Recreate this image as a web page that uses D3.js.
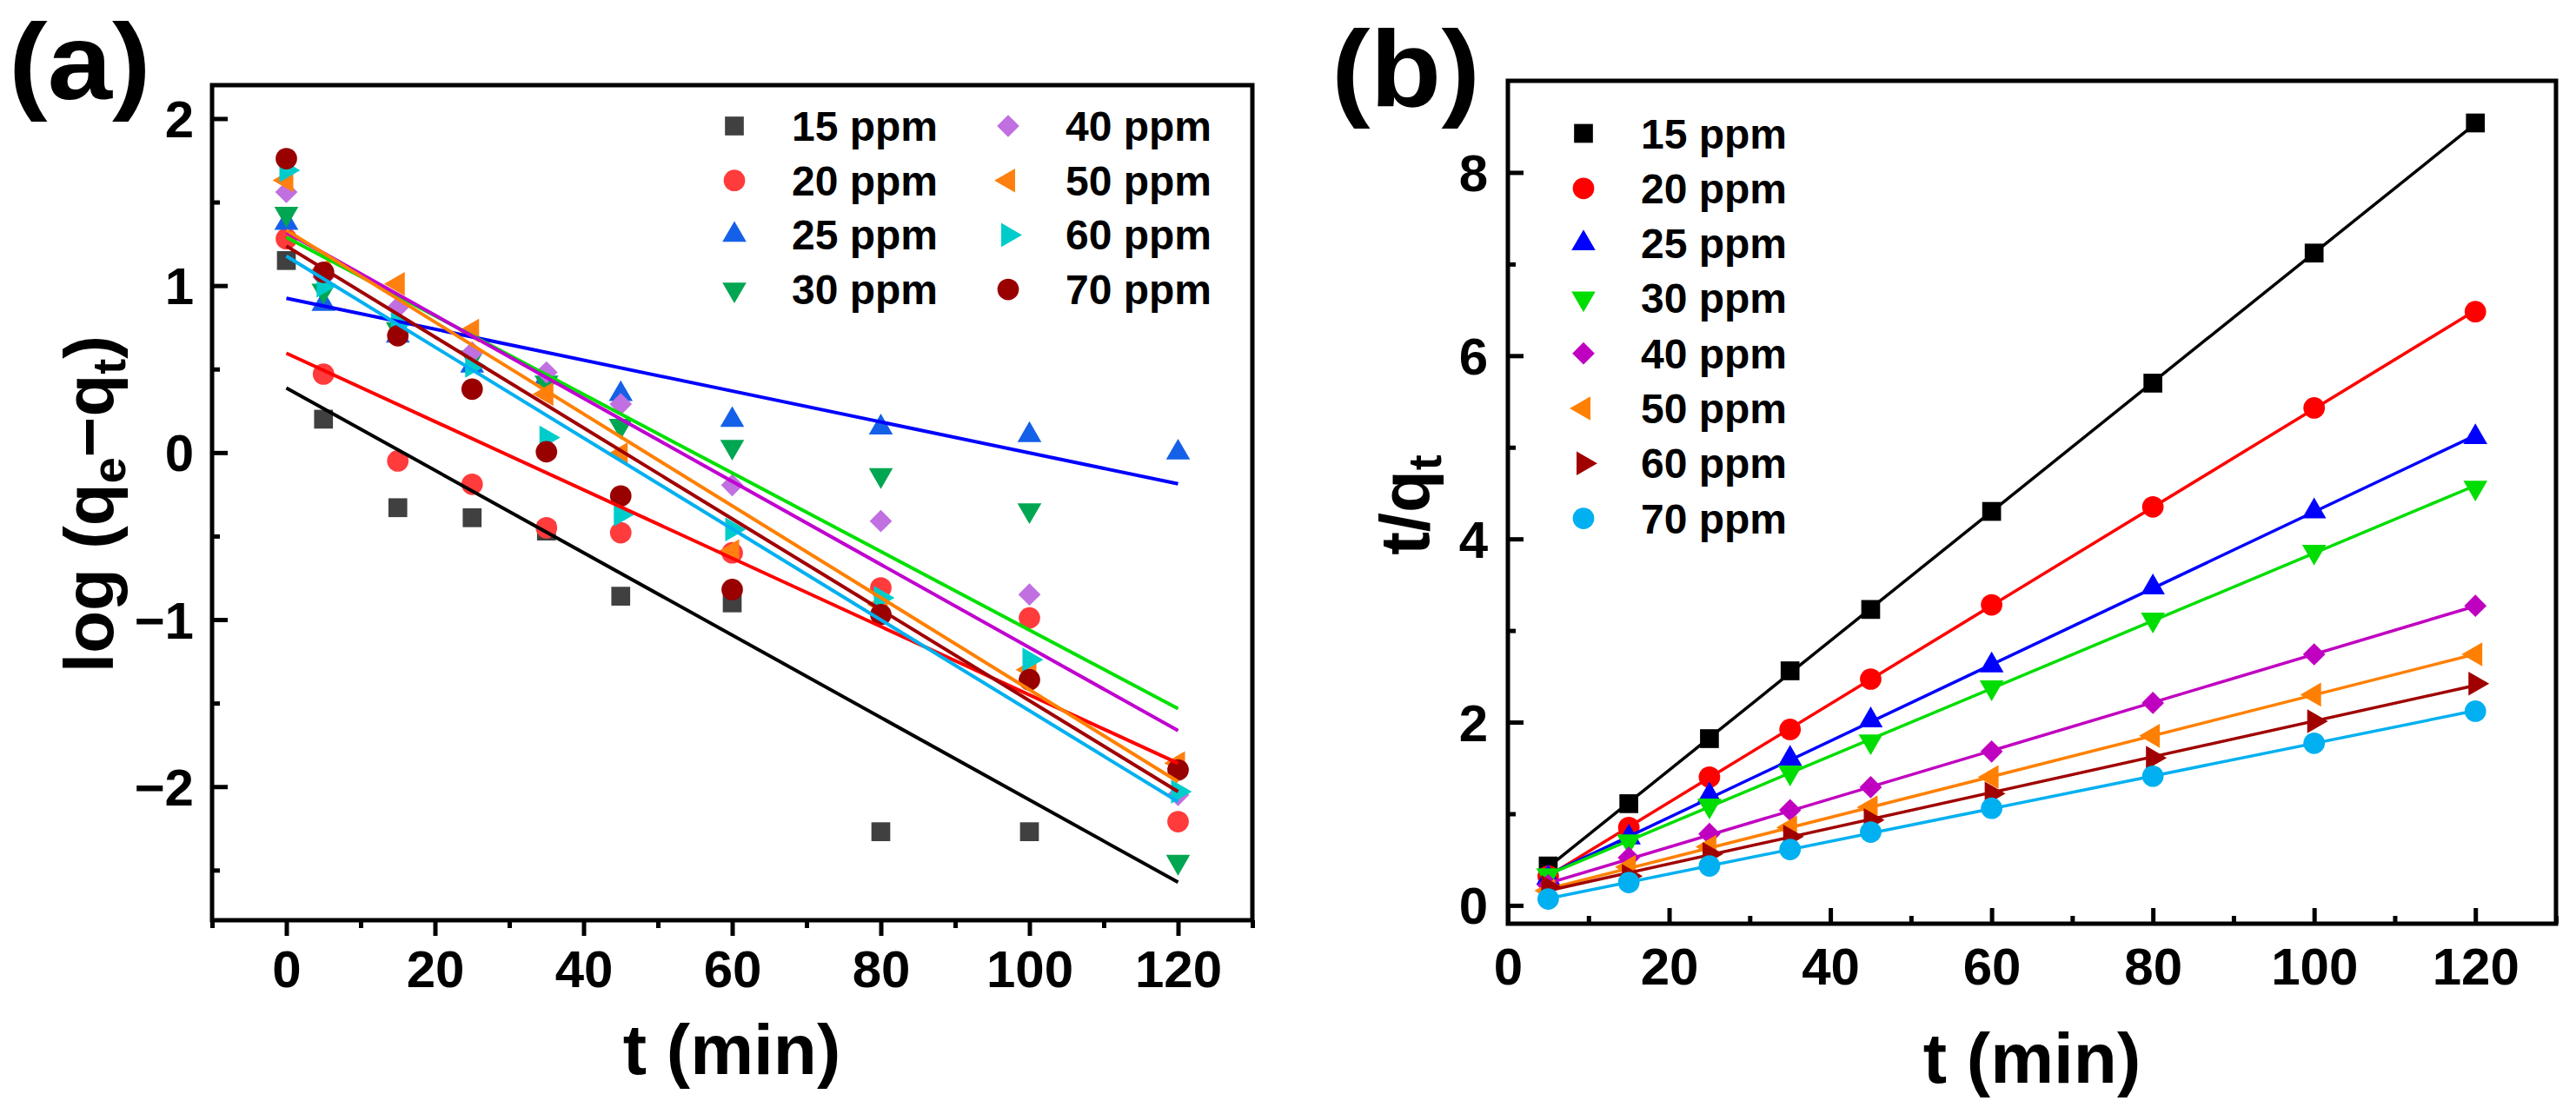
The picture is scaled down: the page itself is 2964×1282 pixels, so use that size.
<!DOCTYPE html>
<html><head><meta charset="utf-8">
<script src="https://cdn.jsdelivr.net/npm/d3@7"></script>
<style>
html,body{margin:0;padding:0;background:#fff;}
svg{display:block;}
text{font-family:"Liberation Sans",Arial,Helvetica,sans-serif;font-weight:bold;fill:#000;}
</style></head>
<body>
<svg id="chart" width="2964" height="1282"></svg>
<script>
// ---------- DATA ----------
const concLabels = ["15 ppm","20 ppm","25 ppm","30 ppm","40 ppm","50 ppm","60 ppm","70 ppm"];

// Panel (a): pseudo-first-order, log(qe - qt) vs t
const timesA = [0,5,15,25,35,45,60,80,100,120];
const logA15 = [1.15, 0.20, -0.33, -0.39, -0.47, -0.86, -0.90, -2.27, -2.27, null];
const logA20 = [1.28, 0.47, -0.05, -0.19, -0.45, -0.48, -0.60, -0.81, -0.99, -2.21];
const logA25 = [1.375, 0.89, 0.70, 0.52, 0.45, 0.35, 0.195, 0.15, 0.105, 0.0];
const logA30 = [1.43, 0.97, 0.74, 0.57, 0.42, 0.16, 0.035, -0.135, -0.345, -2.45];
const logA40 = [1.56, 1.05, 0.87, 0.60, 0.48, 0.29, -0.195, -0.41, -0.85, -2.05];
const logA50 = [1.63, 1.09, 1.01, 0.73, 0.35, -0.01, -0.59, -0.91, -1.30, -1.86];
const logA60 = [1.69, 1.00, 0.77, 0.52, 0.09, -0.37, -0.46, -0.87, -1.24, -2.03];
const logA70 = [1.76, 1.08, 0.70, 0.38, 0.005, -0.26, -0.82, -0.97, -1.36, -1.90];
// fitted lines: value at t = 0 and at t = 120
const fitStartA = [0.387, 0.595, 0.924, 1.289, 1.32, 1.332, 1.176, 1.237];
const fitEndA   = [-2.573, -1.86, -0.187, -1.533, -1.665, -1.97, -2.09, -2.03];
const fitRangeA = [0, 120];

// Panel (b): pseudo-second-order, t/qt vs t
const timesB = [5,15,25,35,45,60,80,100,120];
const tqB15 = [0.43, 1.11, 1.82, 2.56, 3.23, 4.30, 5.70, 7.12, 8.54];
const tqB20 = [0.32, 0.85, 1.40, 1.92, 2.47, 3.28, 4.35, 5.43, 6.48];
const tqB25 = [0.30, 0.74, 1.20, 1.60, 2.02, 2.62, 3.47, 4.30, 5.11];
const tqB30 = [0.33, 0.70, 1.09, 1.45, 1.79, 2.38, 3.12, 3.86, 4.56];
const tqB40 = [0.22, 0.52, 0.78, 1.04, 1.29, 1.68, 2.21, 2.74, 3.27];
const tqB50 = [0.16, 0.42, 0.64, 0.85, 1.07, 1.40, 1.85, 2.30, 2.74];
const tqB60 = [0.20, 0.32, 0.56, 0.75, 0.93, 1.22, 1.61, 2.01, 2.42];
const tqB70 = [0.07, 0.25, 0.43, 0.61, 0.80, 1.06, 1.41, 1.77, 2.12];

// Axis ticks
const xMajorA = [0,20,40,60,80,100,120];
const xMinorA = [-10,10,30,50,70,90,110,130];
const yMajorA = [-2,-1,0,1,2];
const yMinorA = [-2.5,-1.5,-0.5,0.5,1.5];
const xMajorB = [0,20,40,60,80,100,120];
const xMinorB = [10,30,50,70,90,110,130];
const yMajorB = [0,2,4,6,8];
const yMinorB = [1,3,5,7];

// ---------- STYLE ----------
const markerColorsA = ["#404040","#ff3b3b","#1560e8","#00a651","#c070e0","#ff8010","#00cccc","#990000"];
const lineColorsA   = ["#000000","#ff0000","#0000ff","#00e000","#c000d0","#ff8000","#00b0f0","#a00000"];
const shapesA = ["square","circle","up","down","diamond","left","right","circle"];
const colorsB = ["#000000","#ff0000","#0000ff","#00dd00","#c000c0","#ff8000","#a00000","#00b0f0"];
const shapesB = ["square","circle","up","down","diamond","left","right","circle"];

const svg = d3.select("#chart");
svg.append("rect").attr("width",2964).attr("height",1282).attr("fill","#fff");

function symPath(shape){
  const s = {square:[d3.symbolSquare,470],circle:[d3.symbolCircle,480],up:[d3.symbolTriangle,330],
    down:[d3.symbolTriangle,330],left:[d3.symbolTriangle,330],right:[d3.symbolTriangle,330],diamond:[d3.symbolSquare,330]}[shape];
  return d3.symbol().type(s[0]).size(s[1])();
}
function symRot(shape){
  return {down:180,left:-90,right:90,diamond:45}[shape]||0;
}
function drawMarker(g,x,y,shape,color){
  g.append("path").attr("d",symPath(shape))
   .attr("transform",`translate(${x},${y}) rotate(${symRot(shape)})`)
   .attr("fill",color);
}

function frameAxes(g, x, y, opts){
  const [x0,x1] = x.range(), [y0,y1] = y.range();
  const xa = d3.axisBottom(x).tickValues(opts.xMajor).tickSizeOuter(0)
      .tickSizeInner(opts.xIn ? -18 : 18).tickPadding(opts.xPad).tickFormat(d3.format("d"));
  const gx = g.append("g").attr("transform",`translate(0,${y0})`).call(xa);
  const xm = d3.axisBottom(x).tickValues(opts.xMinor).tickSizeOuter(0)
      .tickSizeInner(opts.xIn ? -9 : 9).tickFormat("");
  const gxm = g.append("g").attr("transform",`translate(0,${y0})`).call(xm);
  const ya = d3.axisLeft(y).tickValues(opts.yMajor).tickSizeOuter(0)
      .tickSizeInner(-18).tickPadding(opts.yPad).tickFormat(d3.format("d"));
  const gy = g.append("g").attr("transform",`translate(${x0},0)`).call(ya);
  const ym = d3.axisLeft(y).tickValues(opts.yMinor).tickSizeOuter(0).tickSizeInner(-9).tickFormat("");
  const gym = g.append("g").attr("transform",`translate(${x0},0)`).call(ym);
  [gx,gxm,gy,gym].forEach(a=>{
    a.select(".domain").remove();
    a.selectAll(".tick line").attr("stroke","#000").attr("stroke-width",5);
    a.selectAll("text").attr("font-size",60).attr("font-family","Liberation Sans, Arial, sans-serif")
      .attr("font-weight","bold").attr("fill","#000");
  });
  gy.selectAll("text").attr("dy","0.35em");
  g.append("rect").attr("x",x0).attr("y",y1).attr("width",x1-x0).attr("height",y0-y1)
   .attr("fill","none").attr("stroke","#000").attr("stroke-width",5);
}

// ================= PANEL A =================
const xA = d3.scaleLinear().domain([-10,130]).range([244,1441]);
const yA = d3.scaleLinear().domain([-2.8,2.2]).range([1059,98]);
const gA = svg.append("g");
const seriesA = [logA15,logA20,logA25,logA30,logA40,logA50,logA60,logA70];

const clipA = svg.append("clipPath").attr("id","clipA");
clipA.append("rect").attr("x",246).attr("y",100).attr("width",1193).attr("height",957);
const plotA = gA.append("g").attr("clip-path","url(#clipA)");

seriesA.forEach((vals,i)=>{
  const pts = timesA.map((t,j)=>[t,vals[j]]).filter(p=>p[1]!==null);
  const mg = plotA.append("g");
  pts.forEach(p=>drawMarker(mg,xA(p[0]),yA(p[1]),shapesA[i],markerColorsA[i]));
});
const fitLine = d3.line().x(d=>xA(d[0])).y(d=>yA(d[1]));
seriesA.forEach((vals,i)=>{
  plotA.append("path").datum([[fitRangeA[0],fitStartA[i]],[fitRangeA[1],fitEndA[i]]])
    .attr("d",fitLine).attr("fill","none").attr("stroke",lineColorsA[i]).attr("stroke-width",4);
});
frameAxes(gA,xA,yA,{xMajor:xMajorA,xMinor:xMinorA,yMajor:yMajorA,yMinor:yMinorA,xIn:false,xPad:16,yPad:21});

// legend A
const legA = gA.append("g");
concLabels.forEach((lab,i)=>{
  const col = Math.floor(i/4), row = i%4;
  const sx = [845,1160][col], tx = [911,1226][col];
  const cy = 145 + row*62.7;
  drawMarker(legA,sx,cy,shapesA[i],markerColorsA[i]);
  legA.append("text").attr("x",tx).attr("y",cy+17).attr("font-size",48).text(lab);
});

// axis titles A
gA.append("text").attr("x",842).attr("y",1236).attr("text-anchor","middle").attr("font-size",82).text("t (min)");
const yTitA = gA.append("text").attr("transform","translate(130,580) rotate(-90)")
  .attr("text-anchor","middle").attr("font-size",80);
yTitA.append("tspan").text("log (q");
yTitA.append("tspan").attr("font-size",54).attr("dy",14).text("e");
yTitA.append("tspan").attr("dy",-14).text("\u2212q");
yTitA.append("tspan").attr("font-size",54).attr("dy",14).text("t");
yTitA.append("tspan").attr("dy",-14).text(")");
gA.append("text").attr("transform","translate(10,114) scale(1.08,1)").attr("font-size",124).text("(a)");

// ================= PANEL B =================
const xB = d3.scaleLinear().domain([0,130]).range([1735,2941]);
const yB = d3.scaleLinear().domain([-0.2,9.0]).range([1063,93]);
const gB = svg.append("g");
const seriesB = [tqB15,tqB20,tqB25,tqB30,tqB40,tqB50,tqB60,tqB70];
const lineB = d3.line().x(d=>xB(d[0])).y(d=>yB(d[1]));

seriesB.forEach((vals,i)=>{
  const pts = timesB.map((t,j)=>[t,vals[j]]);
  // least-squares straight line through the points
  const mx = d3.mean(pts,p=>p[0]), my = d3.mean(pts,p=>p[1]);
  const slope = d3.sum(pts,p=>(p[0]-mx)*(p[1]-my))/d3.sum(pts,p=>(p[0]-mx)**2);
  const icpt = my - slope*mx;
  const t0 = timesB[0], t1 = timesB[timesB.length-1];
  gB.append("path").datum([[t0,icpt+slope*t0],[t1,icpt+slope*t1]]).attr("d",lineB)
    .attr("fill","none").attr("stroke",colorsB[i]).attr("stroke-width",3.5);
  const mg = gB.append("g");
  pts.forEach(p=>drawMarker(mg,xB(p[0]),yB(p[1]),shapesB[i],colorsB[i]));
});
frameAxes(gB,xB,yB,{xMajor:xMajorB,xMinor:xMinorB,yMajor:yMajorB,yMinor:yMinorB,xIn:true,xPad:27,yPad:23});

const legB = gB.append("g");
concLabels.forEach((lab,i)=>{
  const cy = 153.5 + i*63.3;
  drawMarker(legB,1822,cy,shapesB[i],colorsB[i]);
  legB.append("text").attr("x",1888).attr("y",cy+17).attr("font-size",48).text(lab);
});

gB.append("text").attr("x",2338).attr("y",1246).attr("text-anchor","middle").attr("font-size",82).text("t (min)");
const yTitB = gB.append("text").attr("transform","translate(1644,581) rotate(-90)")
  .attr("text-anchor","middle").attr("font-size",80);
yTitB.append("tspan").text("t/q");
yTitB.append("tspan").attr("font-size",54).attr("dy",14).text("t");
gB.append("text").attr("transform","translate(1532,122) scale(1.08,1)").attr("font-size",124).text("(b)");
</script>
</body></html>
